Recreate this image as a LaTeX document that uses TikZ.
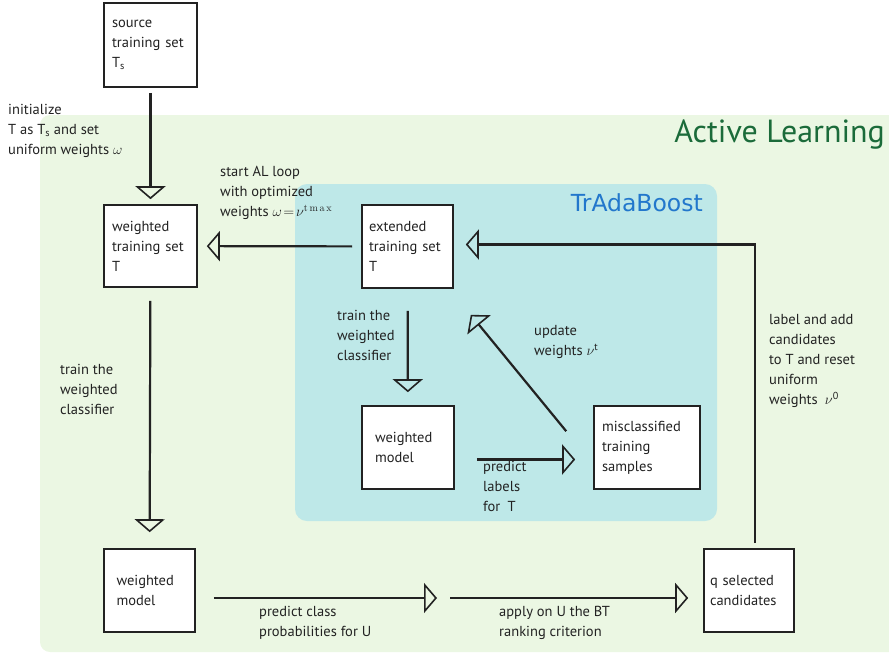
\documentclass[tikz,border=0pt]{standalone}
\usepackage{fontspec}
\setmainfont{PT Sans}
\newfontfamily\tradafont{DejaVu Sans}
\newfontfamily\lmrfont{Latin Modern Roman}
\usetikzlibrary{arrows.meta}
\definecolor{algreen}{HTML}{EBF7E3}
\definecolor{tabblue}{HTML}{BEE8E8}
\definecolor{altitle}{HTML}{1B6B3A}
\definecolor{tatitle}{HTML}{2277CC}
\definecolor{ink}{HTML}{222222}
\tikzset{
  box/.style={draw=ink, line width=1.6pt, fill=white, inner sep=0pt, align=left,
    font=\fontsize{14.5}{20}\selectfont, text=ink},
  lbl/.style={inner sep=0pt, anchor=north west, align=left,
    font=\fontsize{14.5}{20}\selectfont, text=ink},
  arr/.style={draw=ink, line width=2.2pt,
    -{Triangle[open, length=13pt, width=30pt, line width=1.6pt]}}
}
\begin{document}
\begin{tikzpicture}[x=1pt,y=-1pt]
\useasboundingbox (0,0) rectangle (889,657);
% backgrounds
\fill[algreen, rounded corners=10pt] (40,115) rectangle (900,652);
\fill[tabblue, rounded corners=12pt] (295,184) rectangle (717,521);
\node[anchor=east, inner sep=0pt, text=altitle, font=\fontsize{32}{36}\selectfont] (altxt) at (885,135) {Active Learning};
\node[anchor=east, inner sep=0pt, text=tatitle, font=\tradafont\fontsize{23.5}{26}\selectfont] (tatxt) at (703,203) {TrAdaBoost};
% boxes
\node[box, minimum width=93pt, minimum height=84pt, text width=77pt] (src) at (150.5,45) {source\\training set\\T\textsubscript{s}};
\node[box, minimum width=93pt, minimum height=82pt, text width=77pt] (wts) at (150.5,246) {weighted\\training set\\T};
\node[box, minimum width=91pt, minimum height=83pt, text width=77pt] (ext) at (407.5,246.5) {extended\\training set\\T};
\node[box, minimum width=92pt, minimum height=83pt, text width=66pt] (wm) at (408,447.5) {weighted\\model};
\node[box, minimum width=106pt, minimum height=83pt, text width=90pt] (mis) at (647,447.5) {misclassified\\training\\samples};
\node[box, minimum width=91pt, minimum height=83pt, text width=66pt] (bm) at (149.5,590.5) {weighted\\model};
\node[box, minimum width=90pt, minimum height=83pt, text width=78pt] (qs) at (749,590.5) {q selected\\candidates};
\coordinate (mid) at (443.5,598);
% connectors
\draw[arr, shorten <=5pt, shorten >=5pt] (src) -- (wts);
\draw[arr, shorten <=9pt, shorten >=9pt] (ext) -- (wts);
\draw[arr] ([xshift=6pt,yshift=5pt]qs.north) |- ([xshift=12pt,yshift=2pt]ext.east);
\draw[arr, shorten <=22pt, shorten >=13pt] (ext) -- (wm);
\draw[arr] ([xshift=-27pt,yshift=-26pt]mis.north west) -- ([xshift=17pt,yshift=-26pt]ext.south east);
\draw[arr] ([xshift=22pt,yshift=-12pt]wm.east) -- ([xshift=-18pt,yshift=-12pt]mis.west);
\draw[arr, shorten <=13pt, shorten >=16pt] (wts) -- (bm);
\draw[arr] ([xshift=18pt,yshift=-7.5pt]bm.east) -- ([xshift=-6.5pt]mid);
\draw[arr] ([xshift=6.5pt]mid) -- ([xshift=-15pt,yshift=-7.5pt]qs.west);
% labels
\node[lbl] (l1) at (8,104) {initialize\\T as T\textsubscript{s} and set\\uniform weights $\omega$};
\node[lbl] (l2) at (220,166) {start AL loop\\with optimized\\weights $\omega\!=\!\nu$\textsuperscript{\lmrfont t\,m\,a\,x}};
\node[lbl] (l3) at (337,310) {train the\\weighted\\classifier};
\node[lbl] (l4) at (534,325) {update\\weights $\nu$\textsuperscript{t}};
\node[lbl] (l5) at (483,461) {predict\\labels\\for\enspace T};
\node[lbl] (l6) at (769,314) {label and add\\candidates\\to T and reset\\uniform\\weights\enspace$\nu$\textsuperscript{0}};
\node[lbl] (l7) at (60,364) {train the\\weighted\\classifier};
\node[lbl] (l8) at (259,606) {predict class\\probabilities for U};
\node[lbl] (l9) at (499,606) {apply on U the BT\\ranking criterion};
\end{tikzpicture}
\end{document}
